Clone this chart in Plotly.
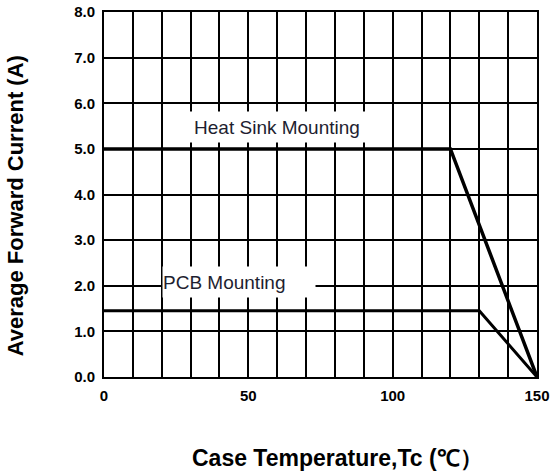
import plotly.graph_objects as go

heat_x = [0, 120, 150]
heat_y = [5.0, 5.0, 0.0]
pcb_x = [0, 130, 150]
pcb_y = [1.45, 1.45, 0.0]
x_ticks = [0, 50, 100, 150]
y_ticks = [0, 1, 2, 3, 4, 5, 6, 7, 8]

FONT = "Liberation Sans, Arial"

fig = go.Figure()
fig.add_trace(go.Scatter(x=heat_x, y=heat_y, mode="lines",
                         line=dict(color="black", width=3.5), showlegend=False))
fig.add_trace(go.Scatter(x=pcb_x, y=pcb_y, mode="lines",
                         line=dict(color="black", width=3), showlegend=False))

fig.add_annotation(x=59.9, y=5.47, text="Heat Sink Mounting", showarrow=False,
                   xref="x", yref="y", bgcolor="white", width=176, height=30,
                   borderpad=0, align="center",
                   font=dict(family=FONT, size=19, color="#1e1e30"))
fig.add_annotation(x=46.9, y=2.09, text="PCB Mounting", showarrow=False,
                   xref="x", yref="y", bgcolor="white", width=152, height=30,
                   borderpad=0, align="left",
                   font=dict(family=FONT, size=19, color="#1e1e30"))

fig.add_annotation(x=0.54, y=-0.262, xref="paper", yref="paper",
                   text="<b>Case Temperature,Tc (℃）</b>", showarrow=False,
                   font=dict(family=FONT, size=23, color="black"))
fig.add_annotation(x=-0.238, y=0.469, xref="paper", yref="paper",
                   text="<b>Average Forward Current (A)</b>", showarrow=False,
                   textangle=-90,
                   font=dict(family=FONT, size=22, color="black"))

fig.update_layout(
    width=550, height=473,
    margin=dict(l=104, r=13, t=12, b=96),
    plot_bgcolor="white", paper_bgcolor="white",
    font=dict(family=FONT, color="black"),
    hovermode=False,
    xaxis=dict(range=[0, 150], tickvals=x_ticks, ticktext=[str(v) for v in x_ticks],
               showgrid=True, gridcolor="black", gridwidth=2,
               minor=dict(tick0=0, dtick=10, showgrid=True, gridcolor="black", gridwidth=2),
               showline=True, linecolor="black", linewidth=2, mirror=True,
               ticks="outside", ticklen=4, tickcolor="white",
               ticklabeloverflow="allow",
               tickfont=dict(size=15, family=FONT, weight="bold"),
               zeroline=False, automargin=False),
    yaxis=dict(range=[0, 8], tickvals=y_ticks, tickformat=".1f",
               showgrid=True, gridcolor="black", gridwidth=2,
               showline=True, linecolor="black", linewidth=2, mirror=True,
               ticks="outside", ticklen=4, tickcolor="white",
               ticklabeloverflow="allow",
               tickfont=dict(size=15, family=FONT, weight="bold"),
               zeroline=False, automargin=False),
)

fig.write_html(
    "out.html",
    config={"displayModeBar": False},
    post_script="document.body.style.margin='0';"
                "document.documentElement.style.overflow='hidden';"
                "document.body.style.overflow='hidden';",
)
